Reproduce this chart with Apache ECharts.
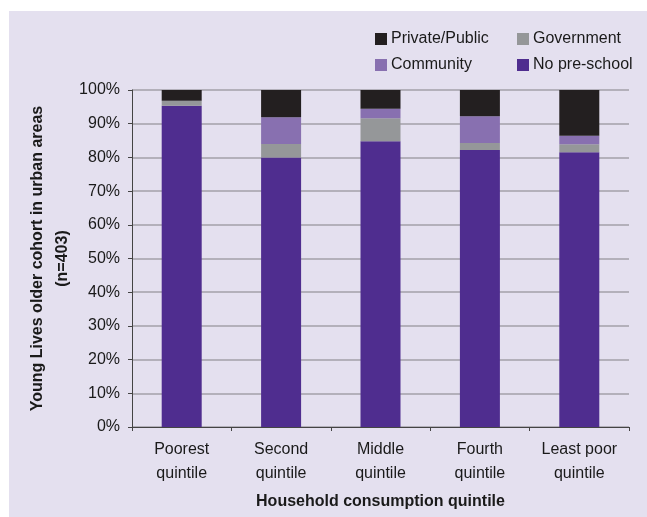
<!DOCTYPE html>
<html><head><meta charset="utf-8">
<script src="https://cdn.jsdelivr.net/npm/echarts@6/dist/echarts.min.js"></script>
<style>
html,body{margin:0;padding:0;background:#fff;}
#bg{position:absolute;left:9px;top:11px;width:638px;height:506px;background:#e4e0ef;}
#c{position:absolute;left:0;top:0;width:647px;height:517px;}
</style></head>
<body><div id="bg"></div><div id="c"></div>
<script>
const categories = ['Poorest\nquintile','Second\nquintile','Middle\nquintile','Fourth\nquintile','Least poor\nquintile'];
const noPreschool = [95.3, 80.0, 84.8, 82.2, 81.5];
const government = [1.5, 4.0, 6.8, 2.1, 2.4];
const community = [0.0, 7.9, 2.8, 7.9, 2.5];
const privatePublic = [3.2, 8.1, 5.6, 7.8, 13.6];
const yTicks = [0,10,20,30,40,50,60,70,80,90,100];

const FONT = '"Liberation Sans", Arial, sans-serif';
const colors = {np:'#4f2d8f', gov:'#959799', com:'#8870b0', pp:'#231f20'};
const chart = echarts.init(document.getElementById('c'), null, {renderer:'canvas'});
function leg(name, left, top){
  return {data:[name], left:left, top:top, itemWidth:12, itemHeight:12, itemGap:0,
    icon:'rect', selectedMode:false, padding:0,
    textStyle:{fontFamily:FONT, fontSize:16, color:'#1a1a1a', padding:[0,0,0,-1]}};
}
chart.setOption({
  backgroundColor:'transparent',
  animation:false,
  legend:[leg('Private/Public',375,31), leg('Government',517,31), leg('Community',375,57), leg('No pre-school',517,57)],
  grid:{left:132, right:18, top:90, bottom:90, containLabel:false},
  xAxis:{type:'category', data:categories,
    axisLine:{lineStyle:{color:'#444', width:1}},
    axisTick:{show:true, length:4, lineStyle:{color:'#444'}},
    axisLabel:{fontFamily:FONT, fontSize:16, color:'#1a1a1a', lineHeight:24, margin:11, interval:0},
    name:'Household consumption quintile', nameLocation:'middle', nameGap:67,
    nameTextStyle:{fontFamily:FONT, fontSize:16, fontWeight:'bold', color:'#1a1a1a'}
  },
  yAxis:{type:'value', min:0, max:100, interval:10,
    axisLine:{show:true, lineStyle:{color:'#444', width:1}},
    axisTick:{show:true, length:4, lineStyle:{color:'#444'}},
    axisLabel:{fontFamily:FONT, fontSize:16, color:'#1a1a1a', formatter: v => v + '%', margin:12},
    splitLine:{lineStyle:{color:'#a3a1a8', width:1.5}},
    name:'Young Lives older cohort in urban areas\n(n=403)', nameLocation:'middle', nameGap:57,
    nameMoveOverlap:false,
    nameTextStyle:{fontFamily:FONT, fontSize:16, fontWeight:'bold', color:'#1a1a1a', lineHeight:25}
  },
  series:[
    {name:'No pre-school', type:'bar', stack:'s', data:noPreschool, barWidth:40, itemStyle:{color:colors.np}},
    {name:'Government', type:'bar', stack:'s', data:government, barWidth:40, itemStyle:{color:colors.gov}},
    {name:'Community', type:'bar', stack:'s', data:community, barWidth:40, itemStyle:{color:colors.com}},
    {name:'Private/Public', type:'bar', stack:'s', data:privatePublic, barWidth:40, itemStyle:{color:colors.pp}}
  ]
});
</script></body></html>
